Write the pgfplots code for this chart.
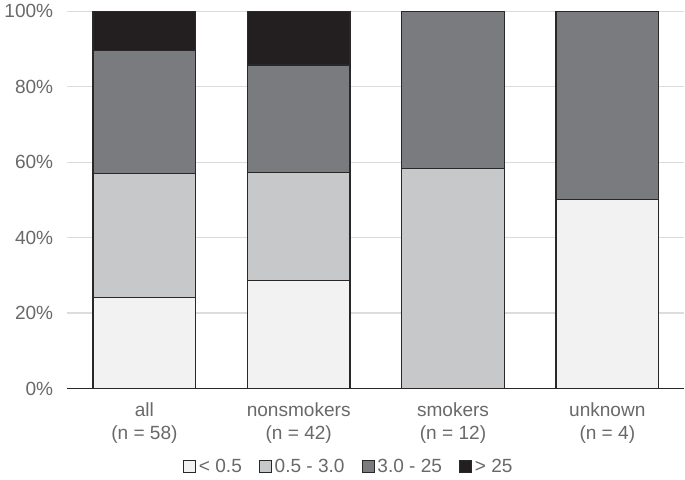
\documentclass[border=0pt]{standalone}
\usepackage{fontspec}
\setmainfont{Liberation Sans}
\usepackage{pgfplots}
\pgfplotsset{compat=1.18}
\definecolor{lowc}{RGB}{242,242,242}
\definecolor{midc}{RGB}{199,200,202}
\definecolor{highc}{RGB}{122,123,127}
\definecolor{topc}{RGB}{35,31,32}
\definecolor{edgec}{RGB}{40,40,40}
\definecolor{txtc}{RGB}{105,105,105}
\definecolor{gridc}{RGB}{220,220,220}

\begin{document}
\begin{tikzpicture}
\begin{axis}[
    scale only axis,
    width=463pt, height=283pt,
    ybar stacked,
    bar width=77pt,
    xmin=-0.5, xmax=3.5,
    ymin=0, ymax=100,
    xtick=data,
    xticklabels={{all\\(n = 58)},{nonsmokers\\(n = 42)},{smokers\\(n = 12)},{unknown\\(n = 4)}},
    xticklabel style={align=center, font=\fontsize{14.3}{17.5}\selectfont, text=txtc, yshift=-7pt},
    ytick={0,20,40,60,80,100},
    yticklabels={0\%,20\%,40\%,60\%,80\%,100\%},
    yticklabel style={font=\fontsize{14.3}{16}\selectfont, text=txtc, xshift=-7pt},
    major tick length=0pt,
    ymajorgrids,
    grid style={gridc, line width=0.8pt},
    axis lines*=left,
    x axis line style={edgec, line width=0.8pt},
    y axis line style={draw=none},
    legend columns=4,
    legend style={draw=none, at={(0.457,-0.207)}, anchor=center,
        font=\fontsize{14.3}{16}\selectfont, text=txtc,
        /tikz/every even column/.append style={column sep=11pt}},
    legend image code/.code={\draw[#1, line width=0.6pt] (0pt,-4.5pt) rectangle (9pt,4.5pt);},
    every axis plot/.append style={draw=edgec, line width=0.9pt},
]
\addplot[fill=lowc] coordinates {(0,24.14) (1,28.57) (2,0) (3,50)};
\addlegendentry{< 0.5}
\addplot[fill=midc] coordinates {(0,32.76) (1,28.57) (2,58.33) (3,0)};
\addlegendentry{0.5 - 3.0}
\addplot[fill=highc] coordinates {(0,32.76) (1,28.57) (2,41.67) (3,50)};
\addlegendentry{3.0 - 25}
\addplot[fill=topc] coordinates {(0,10.34) (1,14.29) (2,0) (3,0)};
\addlegendentry{> 25}
\end{axis}
\end{tikzpicture}
\end{document}
